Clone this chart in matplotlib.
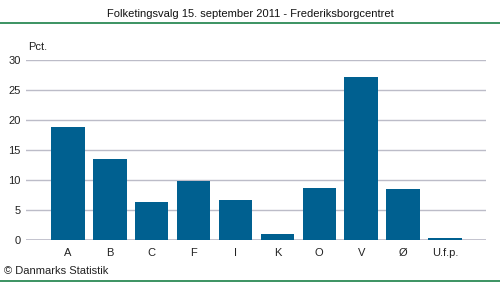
import matplotlib.pyplot as plt
from matplotlib.lines import Line2D

parties = ['A', 'B', 'C', 'F', 'I', 'K', 'O', 'V', 'Ø', 'U.f.p.']
pct = [18.8, 13.5, 6.3, 9.8, 6.7, 1.0, 8.7, 27.2, 8.5, 0.3]
yticks = [0, 5, 10, 15, 20, 25, 30]

plt.rcParams['font.family'] = ['Liberation Sans', 'DejaVu Sans']

fig = plt.figure(figsize=(5, 2.82), dpi=100)
W, H = 500, 282
ax = fig.add_axes([26 / W, 1 - 240 / H, (486 - 26) / W, 180 / H])

ax.bar(range(len(parties)), pct, width=0.8, color='#006090', zorder=3)
ax.set_xlim(-1, 9.98)
ax.set_ylim(0, 30)
ax.set_yticks(yticks)
ax.set_xticks(range(len(parties)))
ax.set_xticklabels(parties)
ax.yaxis.grid(True, color='#bcbcc8', linewidth=1, zorder=0)
for s in ax.spines.values():
    s.set_visible(False)
ax.axhline(0, color='#bcbcc8', linewidth=1.2, zorder=2)
ax.tick_params(length=0, labelsize=8, colors='#222222')
ax.tick_params(axis='y', pad=4)
ax.tick_params(axis='x', pad=6)

fig.text(28 / W, 1 - 47 / H, 'Pct.', fontsize=8, ha='left', va='center', color='#222222')
fig.text(0.5, 1 - 14 / H, 'Folketingsvalg 15. september 2011 - Frederiksborgcentret',
         ha='center', va='center', fontsize=8, color='#111111')
fig.text(4 / W, 1 - 271 / H, '© Danmarks Statistik', ha='left', va='center', fontsize=8, color='#222222')
fig.add_artist(Line2D([0, 1], [1 - 22.5 / H] * 2, color='#1a8048', linewidth=1.2))
fig.add_artist(Line2D([0, 1], [1 - 281 / H] * 2, color='#1a8048', linewidth=1.2))

fig.savefig('out.png', dpi=100)
